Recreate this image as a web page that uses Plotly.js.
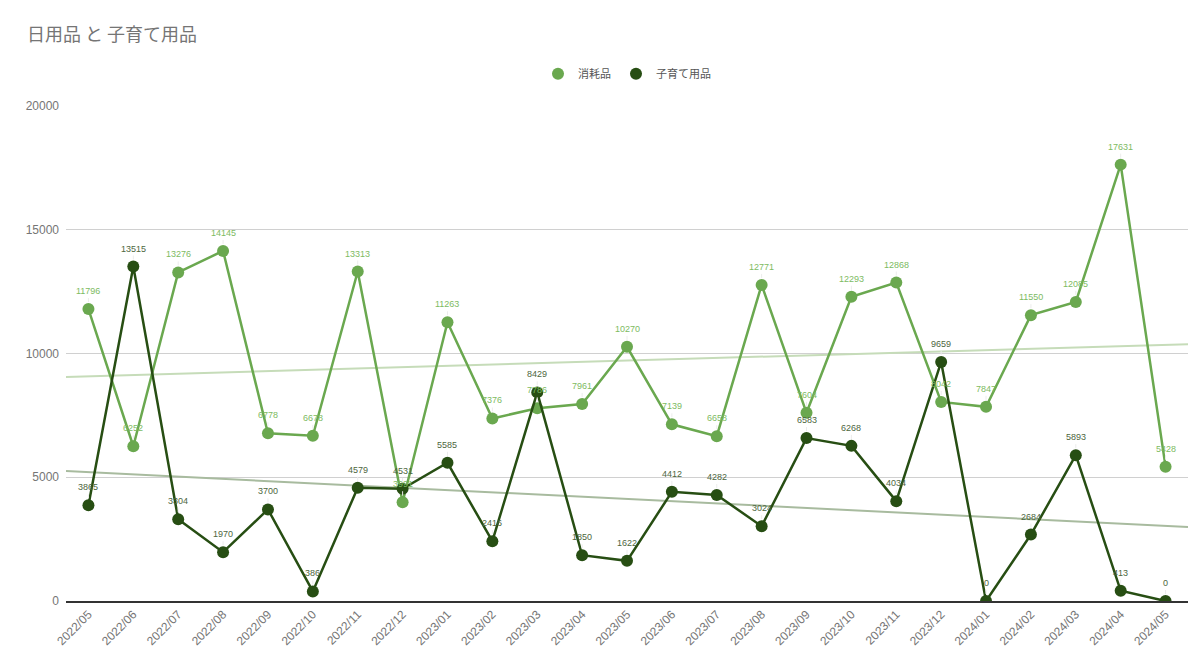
<!DOCTYPE html>
<html>
<head>
<meta charset="utf-8">
<script src="https://cdn.plot.ly/plotly-3.0.1.min.js"></script>
<style>
  body { margin: 0; background: #fff; }
  #myDiv { width: 1200px; height: 670px; }
</style>
</head>
<body>
<div id="myDiv"></div>
<script>
var months = ["2022/05","2022/06","2022/07","2022/08","2022/09","2022/10","2022/11","2022/12",
  "2023/01","2023/02","2023/03","2023/04","2023/05","2023/06","2023/07","2023/08","2023/09",
  "2023/10","2023/11","2023/12","2024/01","2024/02","2024/03","2024/04","2024/05"];

var consumables = [11796, 6252, 13276, 14145, 6778, 6678, 13313, 3991, 11263, 7376, 7786, 7961,
  10270, 7139, 6658, 12771, 7604, 12293, 12868, 8042, 7847, 11550, 12085, 17631, 5428];

var babyGoods = [3865, 13515, 3304, 1970, 3700, 386, 4579, 4531, 5585, 2416, 8429, 1850,
  1622, 4412, 4282, 3024, 6583, 6268, 4034, 9659, 0, 2684, 5893, 413, 0];

var yTicks = [0, 5000, 10000, 15000, 20000];

var lightGreen = '#6aa84f';
var darkGreen = '#274e13';
var jpFont = '"Noto Sans CJK JP", "Noto Sans", sans-serif';
var numFont = 'Liberation Sans, sans-serif';

// least squares line over category index, drawn across the whole plot width
function trend(ys) {
  var n = ys.length, sx = 0, sy = 0, sxy = 0, sxx = 0;
  for (var i = 0; i < n; i++) {
    sx += i; sy += ys[i]; sxy += i * ys[i]; sxx += i * i;
  }
  var b = (n * sxy - sx * sy) / (n * sxx - sx * sx);
  var a = (sy - b * sx) / n;
  return { x: [-0.5, n - 0.5], y: [a + b * -0.5, a + b * (n - 0.5)] };
}

var idx = months.map(function (m, i) { return i; });
var t1 = trend(consumables);
var t2 = trend(babyGoods);

var trendLight = {
  x: t1.x, y: t1.y, mode: 'lines', showlegend: false, hoverinfo: 'skip',
  line: { color: '#c6dcb9', width: 2 }
};
var trendDark = {
  x: t2.x, y: t2.y, mode: 'lines', showlegend: false, hoverinfo: 'skip',
  line: { color: '#a8bb9f', width: 2 }
};

var trace1 = {
  x: idx, y: consumables, name: '消耗品',
  mode: 'lines+markers', showlegend: false,
  line: { color: lightGreen, width: 2.5 },
  marker: { color: lightGreen, size: 12 }
};

var trace2 = {
  x: idx, y: babyGoods, name: '子育て用品',
  mode: 'lines+markers', showlegend: false,
  line: { color: darkGreen, width: 2.5 },
  marker: { color: darkGreen, size: 12 }
};

var legend1 = {
  x: [null], y: [null], name: '消耗品', mode: 'markers',
  marker: { color: lightGreen, size: 12 }
};
var legend2 = {
  x: [null], y: [null], name: '子育て用品', mode: 'markers',
  marker: { color: darkGreen, size: 12 }
};

var data = [trendLight, trendDark, trace1, trace2, legend1, legend2];

// data labels with a faint leader line, like the original
function labels(ys, color) {
  return ys.map(function (v, i) {
    return {
      x: i, y: v, xref: 'x', yref: 'y', text: String(v),
      showarrow: true, arrowhead: 0, arrowwidth: 1, arrowcolor: '#ececec',
      ax: 0, ay: -11, standoff: 7, yanchor: 'bottom',
      font: { size: 9, color: color, family: numFont }
    };
  });
}

var layout = {
  width: 1200, height: 670,
  margin: { l: 66, r: 12, t: 106, b: 69 },
  paper_bgcolor: '#fff', plot_bgcolor: '#fff',
  font: { family: jpFont, color: '#757575' },
  title: {
    text: '日用品 と 子育て用品',
    x: 0.0225, xanchor: 'left', y: 0.948, yanchor: 'middle',
    font: { size: 18, color: '#757575', family: jpFont }
  },
  legend: {
    orientation: 'h', x: 0.5, xanchor: 'center', y: 1.065, yanchor: 'middle',
    font: { size: 11, color: '#555', family: jpFont },
    itemwidth: 30
  },
  xaxis: {
    type: 'linear', range: [-0.5, months.length - 0.5],
    tickmode: 'array', tickvals: idx, ticktext: months,
    tickangle: -45, tickfont: { size: 12, color: '#757575', family: numFont },
    showgrid: false, zeroline: false,
    showline: true, linecolor: '#333', linewidth: 1.5,
    ticks: '', ticklen: 0
  },
  yaxis: {
    range: [0, 20000], tickmode: 'array', tickvals: yTicks,
    ticktext: yTicks.map(String),
    tickfont: { size: 12, color: '#757575', family: numFont },
    showgrid: true, gridcolor: '#d0d0d0', gridwidth: 1,
    zeroline: false, showline: false, ticks: '', ticklabelstandoff: 6
  },
  annotations: labels(consumables, '#7dbb62').concat(labels(babyGoods, '#4d6640'))
};

Plotly.newPlot('myDiv', data, layout, { displayModeBar: false });
</script>
</body>
</html>
